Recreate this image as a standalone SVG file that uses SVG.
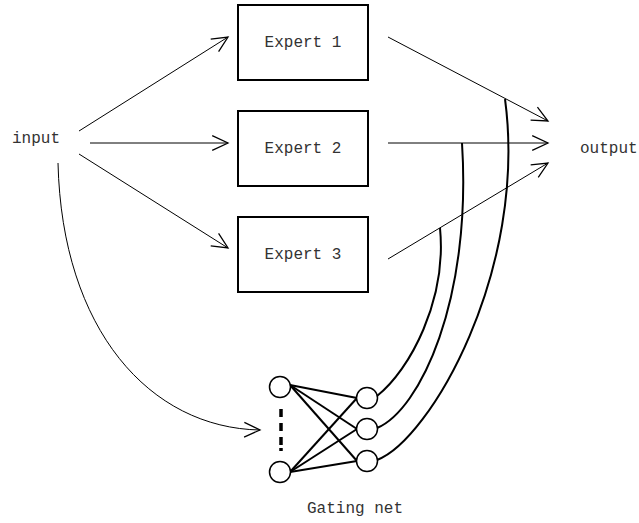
<svg xmlns="http://www.w3.org/2000/svg" width="639" height="523" viewBox="0 0 639 523">
<style>
.lbl{font-family:"Liberation Mono","Courier New",monospace;font-size:16px;fill:#333}
.box{fill:#fff;stroke:#000;stroke-width:2}
.ar{fill:none;stroke:#000;stroke-width:1}
.gn{fill:#fff;stroke:#000;stroke-width:1.5}
.gl{fill:none;stroke:#000;stroke-width:2}
</style>
<defs>
<marker id="oa" markerUnits="userSpaceOnUse" markerWidth="20" markerHeight="20" viewBox="-17 -9 19 18" refX="0" refY="0" orient="auto">
<path d="M-15,-7 L0,0 L-15,7" fill="none" stroke="#000" stroke-width="1.2"/>
</marker>
</defs>
<rect width="639" height="523" fill="#fff"/>
<g id="connectors">
<line class="ar" x1="79" y1="131" x2="228" y2="37" marker-end="url(#oa)"/>
<line class="ar" x1="90" y1="143" x2="228" y2="143" marker-end="url(#oa)"/>
<line class="ar" x1="79" y1="154" x2="228" y2="248" marker-end="url(#oa)"/>
<line class="ar" x1="388" y1="37" x2="548" y2="121" marker-end="url(#oa)"/>
<line class="ar" x1="388" y1="143" x2="548" y2="143" marker-end="url(#oa)"/>
<line class="ar" x1="388" y1="259" x2="548" y2="163" marker-end="url(#oa)"/>
<path class="ar" d="M58,163 C62,330 150,428 260,430" marker-end="url(#oa)"/>
<path class="gl" d="M377,396 C410,370 447,300 440,228"/>
<path class="gl" d="M377,428 C420,410 472,300 462,143"/>
<path class="gl" d="M377,460 C430,440 528,270 505,99"/>
<line x1="281" y1="409" x2="281" y2="452" stroke="#000" stroke-width="3.5" stroke-dasharray="8,6,8,6,8,3,3,6"/>
<g class="gl">
<line x1="290" y1="385" x2="357" y2="398"/>
<line x1="290" y1="385" x2="357" y2="429"/>
<line x1="290" y1="385" x2="357" y2="461"/>
<line x1="290" y1="472" x2="357" y2="398"/>
<line x1="290" y1="472" x2="357" y2="429"/>
<line x1="290" y1="472" x2="357" y2="461"/>
</g>
</g>
<g id="input"><text class="lbl" x="12" y="143">input</text></g>
<g id="output"><text class="lbl" x="580" y="153">output</text></g>
<g id="expert1"><rect class="box" x="238" y="5" width="130" height="75"/><text class="lbl" x="303" y="47" text-anchor="middle">Expert 1</text></g>
<g id="expert2"><rect class="box" x="238" y="111" width="130" height="75"/><text class="lbl" x="303" y="153" text-anchor="middle">Expert 2</text></g>
<g id="expert3"><rect class="box" x="238" y="217" width="130" height="75"/><text class="lbl" x="303" y="259" text-anchor="middle">Expert 3</text></g>
<g id="gating-net">
<circle class="gn" cx="280" cy="387" r="10.5"/>
<circle class="gn" cx="280" cy="472" r="10.5"/>
<circle class="gn" cx="367" cy="398" r="10.5"/>
<circle class="gn" cx="367" cy="429" r="10.5"/>
<circle class="gn" cx="367" cy="461" r="10.5"/>
<text class="lbl" x="355" y="513" text-anchor="middle">Gating net</text>
</g>
</svg>
